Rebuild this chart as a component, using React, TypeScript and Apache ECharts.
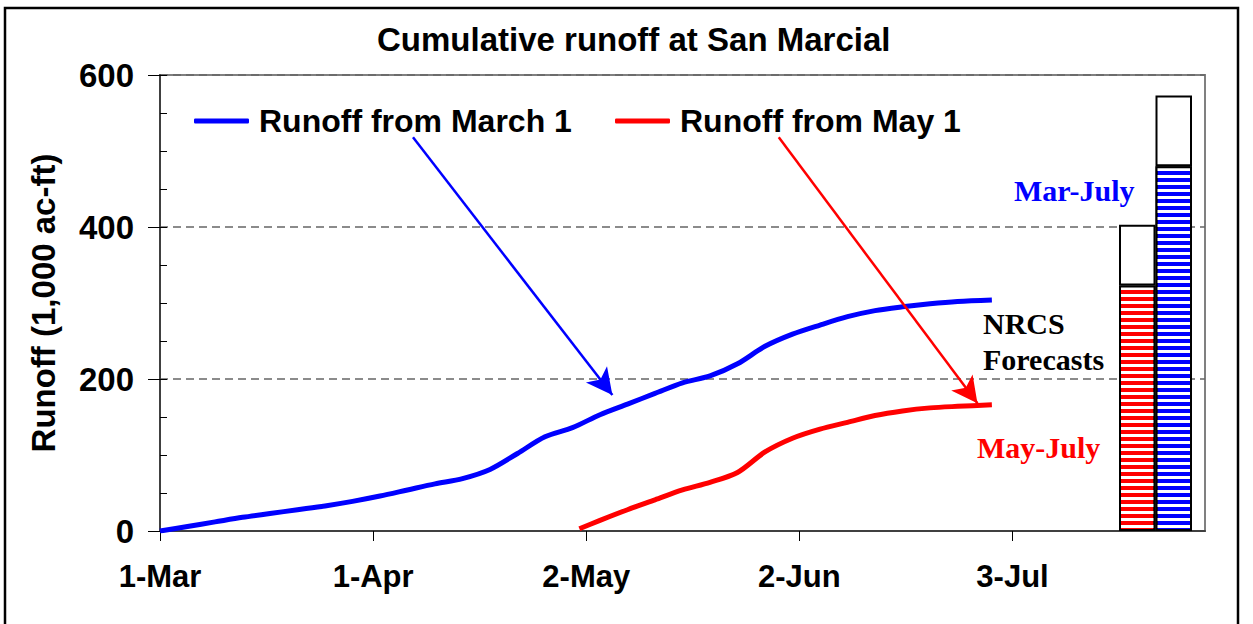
import { useEffect, useRef } from 'react';
import * as echarts from 'echarts';

// X axis: days since 1-Mar
const tickDays = [0, 31, 62, 93, 124];
const tickLabels = ['1-Mar', '1-Apr', '2-May', '2-Jun', '3-Jul'];
const yTickValues = [0, 200, 400, 600];

const marchDays = [0, 4, 8, 12, 16, 20, 24, 28, 32, 36, 40, 44, 48, 52, 56, 60, 64, 68, 72, 76, 80, 84, 88, 92, 96, 100, 104, 108, 112, 116, 121];
const marchRunoff = [0, 6, 12, 18, 23, 28, 33, 39, 46, 54, 62, 69, 81, 102, 124, 136, 153, 167, 181, 195, 204, 220, 243, 259, 271, 282, 290, 295, 299, 302, 304];

const mayDays = [61, 64, 68, 72, 76, 80, 84, 88, 92, 96, 100, 104, 108, 112, 116, 121];
const mayRunoff = [3, 14, 28, 41, 54, 64, 77, 104, 122, 134, 143, 152, 158, 162, 164, 166];

const forecastNames = ['May-July', 'Mar-July'];
const forecastLow = [323, 480];
const forecastHigh = [403, 573];

const legendNames = ['Runoff from March 1', 'Runoff from May 1'];
const blueArrow = [[36.8, 518], [65.8, 179]];
const redArrow = [[90, 518], [118.9, 168]];

const BLUE = '#0000FF';
const RED = '#FF0000';
const SANS = '"Liberation Sans", Arial, sans-serif';
const SERIF = '"Liberation Serif", "Times New Roman", serif';

function stripes(color: string) {
  return {
    color,
    borderColor: '#000',
    borderWidth: 2,
    decal: {
      symbol: 'rect',
      symbolSize: 1,
      color: '#ffffff',
      dashArrayX: [1, 0],
      dashArrayY: [3, 4],
      rotation: 0,
    },
  };
}

export default function App() {
  const ref = useRef<HTMLDivElement>(null);
  useEffect(() => {
    document.body.style.margin = '0';
    const chart = echarts.init(ref.current!, null, { renderer: 'svg' });
    const arrowMark = (pts: number[][], color: string) => ({
      silent: true,
      symbol: ['none', 'arrow'],
      symbolSize: [20, 26],
      label: { show: false },
      lineStyle: { color, width: 2.5, type: 'solid' },
      data: [[{ coord: pts[0] }, { coord: pts[1] }]],
    });
    const labelStyle = { fontFamily: SANS, fontWeight: 'bold', fontSize: 31, color: '#000' };
    const legendBase = {
      top: 100,
      itemWidth: 55,
      itemHeight: 5,
      icon: 'roundRect',
      textStyle: { ...labelStyle, fontSize: 32, padding: [0, 0, 0, 5] },
    };
    chart.setOption({
      animation: false,
      backgroundColor: '#fff',
      title: {
        text: 'Cumulative runoff at San Marcial',
        left: 377,
        top: 23,
        padding: 0,
        textStyle: { fontFamily: SANS, fontWeight: 'bold', fontSize: 33, color: '#000' },
      },
      legend: [
        { ...legendBase, data: [legendNames[0]], left: 189 },
        { ...legendBase, data: [legendNames[1]], left: 610 },
      ],
      grid: [
        { left: 160, right: 48, top: 75, bottom: 93, show: true, borderColor: '#808080', borderWidth: 2 },
        { left: 1119, width: 73, top: 75, bottom: 93 },
      ],
      xAxis: [
        {
          type: 'value',
          gridIndex: 0,
          min: 0,
          max: 152,
          interval: 31,
          axisLine: { lineStyle: { color: '#404040', width: 2 } },
          axisTick: { length: 10, lineStyle: { color: '#000', width: 1 }, customValues: tickDays },
          axisLabel: {
            ...labelStyle,
            margin: 30,
            customValues: tickDays,
            formatter: (v: number) => {
              const i = tickDays.indexOf(Math.round(v));
              return i >= 0 ? tickLabels[i] : '';
            },
          },
          splitLine: { show: false },
        },
        {
          type: 'category',
          gridIndex: 1,
          data: forecastNames,
          show: false,
        },
      ],
      yAxis: [
        {
          type: 'value',
          gridIndex: 0,
          position: 'left',
          min: 0,
          max: 600,
          interval: 200,
          name: 'Runoff (1,000 ac-ft)',
          nameLocation: 'middle',
          nameGap: 100,
          nameTextStyle: { ...labelStyle, fontSize: 33 },
          axisLine: { show: true, lineStyle: { color: '#404040', width: 2 } },
          axisTick: { show: true, length: 12, lineStyle: { color: '#000', width: 1 } },
          axisLabel: { ...labelStyle, fontSize: 33, margin: 26, customValues: yTickValues },
          splitLine: { show: true, lineStyle: { color: '#666', width: 1.5, type: [8, 5] } },
        },
        {
          type: 'value',
          gridIndex: 0,
          position: 'left',
          min: 0,
          max: 600,
          interval: 50,
          axisLine: { show: false },
          axisTick: { show: true, inside: true, length: 7, lineStyle: { color: '#000', width: 1 } },
          axisLabel: { show: false },
          splitLine: { show: false },
        },
        {
          type: 'value',
          gridIndex: 1,
          min: 0,
          max: 600,
          show: false,
          splitLine: { show: false },
        },
      ],
      series: [
        {
          name: legendNames[0],
          type: 'line',
          xAxisIndex: 0,
          yAxisIndex: 0,
          data: marchDays.map((d, i) => [d, marchRunoff[i]]),
          symbol: 'none',
          smooth: 0.3,
          lineStyle: { color: BLUE, width: 5 },
          itemStyle: { color: BLUE },
          markLine: arrowMark(blueArrow, BLUE),
          z: 3,
        },
        {
          name: legendNames[1],
          type: 'line',
          xAxisIndex: 0,
          yAxisIndex: 0,
          data: mayDays.map((d, i) => [d, mayRunoff[i]]),
          symbol: 'none',
          smooth: 0.3,
          lineStyle: { color: RED, width: 5 },
          itemStyle: { color: RED },
          markLine: arrowMark(redArrow, RED),
          z: 3,
        },
        {
          name: 'May-July low',
          type: 'bar',
          xAxisIndex: 1,
          yAxisIndex: 2,
          stack: 'fc',
          barWidth: '100%',
          data: [forecastLow[0], '-'],
          itemStyle: stripes(RED),
        },
        {
          name: 'Mar-July low',
          type: 'bar',
          xAxisIndex: 1,
          yAxisIndex: 2,
          stack: 'fc',
          barWidth: '100%',
          data: ['-', forecastLow[1]],
          itemStyle: stripes(BLUE),
        },
        {
          name: 'Forecast range',
          type: 'bar',
          xAxisIndex: 1,
          yAxisIndex: 2,
          stack: 'fc',
          barWidth: '100%',
          data: forecastHigh.map((h, i) => h - forecastLow[i]),
          itemStyle: { color: '#fff', borderColor: '#000', borderWidth: 2 },
        },
      ],
      graphic: [
        {
          type: 'rect',
          shape: { x: 5, y: 8, width: 1233, height: 650 },
          style: { fill: 'none', stroke: '#000', lineWidth: 2.5 },
          silent: true,
          z: 100,
        },
        {
          type: 'text',
          x: 1014,
          y: 190,
          style: { text: forecastNames[1], fill: BLUE, font: `bold 30px ${SERIF}`, verticalAlign: 'middle' },
        },
        {
          type: 'text',
          x: 983,
          y: 323,
          style: { text: 'NRCS', fill: '#000', font: `bold 30px ${SERIF}`, verticalAlign: 'middle' },
        },
        {
          type: 'text',
          x: 983,
          y: 359,
          style: { text: 'Forecasts', fill: '#000', font: `bold 30px ${SERIF}`, verticalAlign: 'middle' },
        },
        {
          type: 'text',
          x: 977,
          y: 447,
          style: { text: forecastNames[0], fill: RED, font: `bold 30px ${SERIF}`, verticalAlign: 'middle' },
        },
      ],
    });
    return () => chart.dispose();
  }, []);
  return <div ref={ref} style={{ width: 1253, height: 624 }} />;
}
